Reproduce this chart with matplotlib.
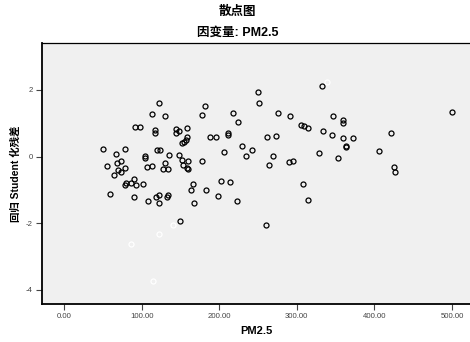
import matplotlib

matplotlib.use("Agg")
import matplotlib.pyplot as plt
from matplotlib.ticker import FixedLocator, FuncFormatter

plt.rcParams["font.family"] = ["Liberation Sans", "Noto Sans CJK SC"]
plt.rcParams["axes.unicode_minus"] = False

# PM2.5 vs studentized residual (regular cases)
pm25 = [
    121.8, 113.8, 129.8, 182.0, 177.8, 217.8, 224.6, 250.4, 251.0, 91.9,
    97.9, 116.9, 116.9, 144.7, 148.5, 144.3, 158.8, 158.9, 157.6, 155.0,
    151.4, 188.5, 195.6, 211.7, 211.7, 229.6, 241.9, 234.5, 206.8, 49.9,
    79.0, 67.0, 104.8, 104.8, 73.5, 68.3, 55.0, 107.0, 114.0, 78.2,
    69.6, 73.1, 64.4, 89.8, 79.9, 78.4, 86.3, 92.8, 101.8, 58.9,
    90.2, 108.6, 122.0, 118.6, 121.8, 133.0, 134.0, 163.0, 182.7, 167.9,
    198.1, 222.9, 149.1, 119.5, 123.7, 134.9, 148.6, 151.4, 159.4, 129.8,
    153.0, 127.6, 134.0, 158.2, 159.4, 177.8, 165.9, 201.9, 213.9, 332.5,
    276.2, 291.6, 346.6, 359.9, 359.1, 305.4, 309.7, 314.8, 333.8, 345.0,
    261.6, 272.8, 359.1, 372.0, 363.8, 363.8, 328.6, 269.7, 263.8, 290.3,
    294.7, 353.5, 405.9, 421.0, 425.6, 426.8, 499.7, 307.6, 314.8, 259.9,
]
resid = [
    1.595, 1.289, 1.229, 1.505, 1.244, 1.310, 1.031, 1.931, 1.601, 0.899,
    0.890, 0.794, 0.719, 0.824, 0.779, 0.719, 0.851, 0.575, 0.500, 0.431,
    0.410, 0.596, 0.596, 0.719, 0.650, 0.329, 0.209, 0.029, 0.125, 0.215,
    0.230, 0.080, 0.020, -0.046, -0.121, -0.181, -0.271, -0.301, -0.271, -0.349,
    -0.400, -0.451, -0.550, -0.664, -0.796, -0.859, -0.805, -0.841, -0.829, -1.120,
    -1.225, -1.339, -1.390, -1.201, -1.144, -1.216, -1.141, -0.994, -0.994, -1.390,
    -1.189, -1.324, -1.921, 0.206, 0.200, 0.050, 0.050, -0.115, -0.121, -0.181,
    -0.250, -0.370, -0.361, -0.349, -0.385, -0.139, -0.811, -0.739, -0.775, 2.120,
    1.310, 1.229, 1.229, 1.091, 1.010, 0.941, 0.920, 0.851, 0.770, 0.641,
    0.590, 0.620, 0.560, 0.560, 0.329, 0.281, 0.101, 0.029, -0.241, -0.160,
    -0.139, -0.040, 0.179, 0.719, -0.301, -0.460, 1.340, -0.814, -1.315, -2.050,
]

# cases drawn with white markers
pm25_white = [338.9, 140.1, 122.0, 86.7, 114.9]
resid_white = [2.249, -2.041, -2.320, -2.605, -3.715]

x_ticks = [0, 100, 200, 300, 400, 500]
y_ticks = [2, 0, -2, -4]

fig = plt.figure(figsize=(4.70, 3.42), dpi=100)
ax = fig.add_axes([42 / 470, 1 - 304 / 342, 428 / 470, 261 / 342])
ax.set_facecolor("#f0f0f0")

ax.plot(pm25, resid, linestyle="none", marker="o", ms=3.6, mfc="none",
        mec="black", mew=0.9)
ax.plot(pm25_white, resid_white, linestyle="none", marker="o", ms=3.6,
        mfc="none", mec="white", mew=0.9)

ax.set_xlim(-28.4, 523.2)
ax.set_ylim(-4.42, 3.41)
ax.xaxis.set_major_locator(FixedLocator(x_ticks))
ax.yaxis.set_major_locator(FixedLocator(y_ticks))
ax.xaxis.set_major_formatter(FuncFormatter(lambda v, p: f"{v:.2f}"))
ax.yaxis.set_major_formatter(FuncFormatter(lambda v, p: f"{v:.0f}"))
ax.tick_params(axis="both", direction="out", length=4.5, width=0.8,
               color="#444444", labelsize=5.6, labelcolor="#444444", pad=2)

for side in ("left", "bottom"):
    ax.spines[side].set_linewidth(1.3)
    ax.spines[side].set_color("black")
ax.spines["top"].set_linewidth(0.9)
ax.spines["right"].set_visible(False)

ax.set_xlabel("PM2.5", fontsize=8, fontweight="bold", labelpad=4)
ax.set_ylabel("回归 Student 化残差", fontsize=7.5, fontweight="bold", labelpad=4)

fig.text(0.505, 1 - 12 / 342, "散点图", ha="center", va="center",
         fontsize=9, fontweight="bold")
fig.text(0.505, 1 - 33 / 342, "因变量: PM2.5", ha="center", va="center",
         fontsize=9, fontweight="bold")

fig.savefig("out.png", dpi=100, facecolor="white")
plt.close(fig)
